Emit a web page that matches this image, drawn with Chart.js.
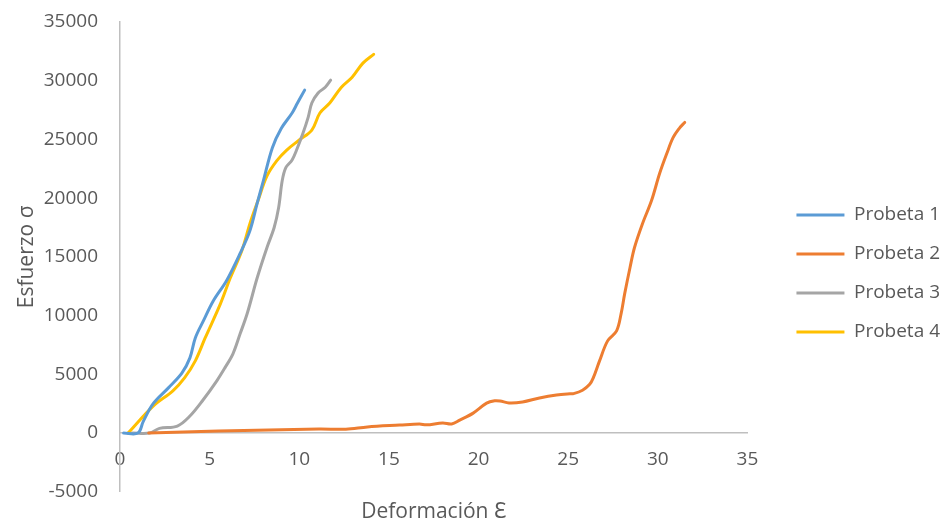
<!DOCTYPE html>
<html>
<head>
<meta charset="utf-8">
<script src="https://cdn.jsdelivr.net/npm/chart.js@4"></script>
<style>
  html, body { margin: 0; padding: 0; background: #ffffff; }
  #wrap { width: 945px; height: 525px; }
</style>
</head>
<body>
<div id="wrap"><canvas id="c" width="945" height="525"></canvas></div>
<script>
// Ensayo de tracción: deformación (x) contra esfuerzo (y) de cuatro probetas
const seriesNames = ['Probeta 1', 'Probeta 2', 'Probeta 3', 'Probeta 4'];
const seriesColors = ['#5B9BD5', '#ED7D31', '#A5A5A5', '#FFC000'];

const p1Strain = [0.2, 1.0, 1.3, 1.85, 2.7, 3.45, 3.9, 4.2, 4.65, 5.2, 5.95, 6.7, 7.25, 7.65, 8.0, 8.5, 9.0, 9.6, 9.9, 10.3];
const p1Stress = [0, 0, 1000, 2500, 3850, 5100, 6400, 8100, 9550, 11250, 13000, 15300, 17250, 19550, 21500, 24300, 25950, 27250, 28100, 29200];

const p2Strain = [1.6, 5.5, 11.1, 12.6, 13.8, 15.6, 16.7, 17.1, 18.0, 18.5, 18.95, 19.7, 20.45, 20.9, 21.2, 21.7, 22.45, 23.4, 24.35, 25.1, 25.3, 25.8, 26.2, 26.4, 26.75, 27.2, 27.7, 27.95, 28.15, 28.45, 28.7, 29.15, 29.65, 30.1, 30.5, 30.85, 31.2, 31.5];
const p2Stress = [0, 170, 350, 330, 520, 680, 770, 700, 860, 780, 1100, 1700, 2550, 2750, 2730, 2570, 2650, 2990, 3240, 3350, 3360, 3650, 4150, 4700, 6150, 7850, 8700, 10150, 11850, 14100, 15800, 17850, 19800, 22100, 23800, 25150, 25950, 26450];

const p3Strain = [0.7, 1.65, 2.2, 3.2, 3.9, 4.6, 5.4, 5.85, 6.3, 6.7, 7.1, 7.65, 8.2, 8.6, 8.85, 9.05, 9.25, 9.6, 9.85, 10.2, 10.5, 10.7, 11.05, 11.45, 11.75];
const p3Stress = [0, 0, 400, 600, 1450, 2750, 4450, 5550, 6750, 8450, 10200, 13200, 15800, 17500, 19200, 21500, 22600, 23250, 24100, 25500, 26900, 28100, 28950, 29450, 30050];

const p4Strain = [0.45, 1.85, 2.95, 3.6, 4.2, 4.75, 5.6, 6.15, 6.8, 7.25, 7.7, 8.2, 8.75, 9.3, 10.0, 10.7, 11.15, 11.7, 12.35, 12.95, 13.55, 14.15];
const p4Stress = [0, 2300, 3600, 4700, 6150, 8100, 11000, 13200, 15550, 17850, 19800, 21900, 23200, 24100, 24950, 25800, 27250, 28100, 29450, 30300, 31500, 32250];

const strainTicks = [0, 5, 10, 15, 20, 25, 30, 35];
const stressTicks = [-5000, 0, 5000, 10000, 15000, 20000, 25000, 30000, 35000];

const strains = [p1Strain, p2Strain, p3Strain, p4Strain];
const stresses = [p1Stress, p2Stress, p3Stress, p4Stress];

const datasets = seriesNames.map((name, i) => ({
  label: name,
  data: strains[i].map((x, k) => ({ x: x, y: stresses[i][k] })),
  borderColor: seriesColors[i],
  backgroundColor: seriesColors[i],
  borderWidth: 3,
  pointRadius: 0,
  pointHoverRadius: 0,
  showLine: true,
  fill: false,
  tension: 0.35,
  borderCapStyle: 'round',
  borderJoinStyle: 'round'
}));

const textColor = '#595959';
const axisLine = '#bfbfbf';
const family = '"Open Sans", "Noto Sans", sans-serif';

// Legend sits a little to the right of the plot edge
const legendOffset = {
  id: 'legendOffset',
  afterLayout(chart) {
    const lg = chart.legend;
    if (!lg) return;
    const dx = 29;
    lg.left += dx;
    lg.right += dx;
  }
};

new Chart(document.getElementById('c'), {
  type: 'scatter',
  data: { datasets: datasets },
  plugins: [legendOffset],
  options: {
    responsive: false,
    animation: false,
    layout: { padding: { top: 22, left: 0, right: 24, bottom: 0 } },
    scales: {
      x: {
        type: 'linear',
        position: { y: 0 },
        min: 0,
        max: 35,
        afterBuildTicks(scale) { scale.ticks = strainTicks.map(v => ({ value: v })); },
        grid: { display: false, drawTicks: false },
        border: { display: true, color: axisLine, width: 1.5 },
        ticks: {
          color: textColor,
          font: { family: family, size: 19 },
          padding: 15,
          maxRotation: 0,
          callback: v => String(v)
        }
      },
      y: {
        type: 'linear',
        position: 'left',
        min: -5000,
        max: 35000,
        afterBuildTicks(scale) { scale.ticks = stressTicks.map(v => ({ value: v })); },
        afterFit(scale) { scale.width = 120; },
        grid: { display: false, drawTicks: true, tickLength: 22 },
        border: { display: true, color: axisLine, width: 1.5 },
        ticks: {
          color: textColor,
          font: { family: family, size: 19 },
          padding: 0,
          callback: v => String(v)
        },
        title: {
          display: true,
          text: 'Esfuerzo σ',
          color: textColor,
          font: { family: family, size: 21 },
          padding: { top: 14, bottom: 0 }
        }
      }
    },
    plugins: {
      tooltip: { enabled: false },
      title: {
        display: true,
        position: 'bottom',
        fullSize: false,
        text: 'Deformación Ɛ',
        color: textColor,
        font: { family: family, size: 21, weight: 'normal' },
        padding: { top: 8, bottom: 0 }
      },
      legend: {
        position: 'right',
        align: 'center',
        labels: {
          color: textColor,
          font: { family: family, size: 19 },
          boxWidth: 48,
          boxHeight: 3,
          padding: 20,
          generateLabels(chart) {
            const items = Chart.defaults.plugins.legend.labels.generateLabels(chart);
            items.forEach(it => { it.lineWidth = 0; });
            return items;
          }
        }
      }
    }
  }
});
</script>
</body>
</html>
